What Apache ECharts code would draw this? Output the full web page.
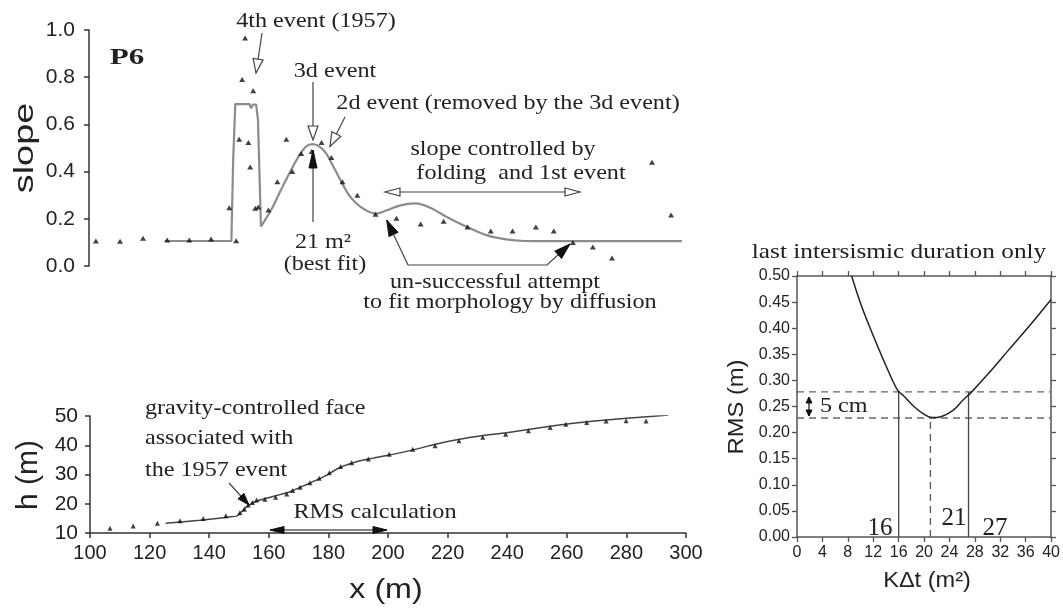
<!DOCTYPE html>
<html>
<head>
<meta charset="utf-8">
<script src="https://cdn.jsdelivr.net/npm/echarts@6/dist/echarts.min.js"></script>
<style>
  html, body { margin: 0; padding: 0; background: #fff; }
  #chart { width: 1063px; height: 610px; }
</style>
</head>
<body>
<div id="chart"></div>
<script>
// Profile P6: measured slope (triangles) against distance x (m)
const slopeX = [102.3, 110.4, 118.1, 126.2, 133.6, 140.9, 147.0, 149.3, 150.3, 151.3, 152.3, 153.4, 154.0, 155.0, 155.7, 156.7,
  160.1, 163.1, 166.1, 168.1, 171.1, 174.6, 177.9, 181.2, 184.9, 189.9, 196.0, 203.0, 211.1, 218.8, 226.8, 234.6,
  241.9, 249.7, 255.7, 262.1, 268.8, 275.2, 288.6, 295.0];
const slopeY = [0.106, 0.105, 0.118, 0.110, 0.110, 0.114, 0.247, 0.107, 0.537, 0.790, 0.966, 0.523, 0.420, 0.743, 0.245, 0.250,
  0.237, 0.357, 0.537, 0.400, 0.477, 0.485, 0.523, 0.460, 0.357, 0.300, 0.219, 0.202, 0.178, 0.190, 0.165, 0.148,
  0.148, 0.165, 0.148, 0.100, 0.080, 0.034, 0.440, 0.216];

// Modelled slope: the 1957 gravity-controlled face (sharp step)...
const stepX = [125.4, 147.7, 148.3, 149.0, 153.8, 154.3, 154.9, 156.0, 156.6, 157.6];
const stepY = [0.106, 0.106, 0.450, 0.686, 0.686, 0.668, 0.684, 0.684, 0.620, 0.167];
// ...and the diffused older scarps (KΔt = 21 m²)
const modelX = [157.6, 161.0, 164.3, 167.7, 170.5, 172.7, 174.9, 177.2, 179.4, 181.6, 183.9, 186.7, 189.5, 192.8, 196.0,
  199.6, 204.0, 209.4, 214.1, 219.7, 226.4, 233.1, 239.8, 246.0, 252.0, 298.6];
const modelY = [0.167, 0.237, 0.322, 0.407, 0.470, 0.506, 0.516, 0.506, 0.478, 0.428, 0.372, 0.308, 0.266, 0.236, 0.222,
  0.235, 0.256, 0.265, 0.248, 0.209, 0.167, 0.131, 0.113, 0.106, 0.105, 0.105];

// Elevation profile h (m): surveyed points and modelled profile
const hX = [106.7, 114.5, 122.6, 130.2, 138.0, 145.6, 150.3, 151.8, 153.1, 154.5, 155.9, 158.7, 162.3, 166.0, 168.0, 170.5,
  173.8, 176.9, 180.3, 184.1, 187.8, 193.4, 200.4, 208.3, 215.8, 223.8, 231.8, 239.5, 247.1, 254.4, 259.7, 266.7,
  273.2, 279.9, 286.6];
const hY = [11.6, 12.4, 13.3, 14.2, 15.0, 15.9, 16.9, 18.1, 19.6, 20.4, 21.3, 21.5, 22.2, 23.3, 24.5, 25.6,
  27.2, 28.7, 30.6, 32.7, 34.0, 35.3, 36.9, 38.6, 39.8, 41.5, 42.7, 43.8, 45.0, 46.1, 47.2, 47.8,
  48.3, 48.4, 48.3];
const profX = [125.4, 136.9, 148.1, 149.4, 152.6, 155.4, 158.2, 162.6, 167.1, 172.7, 178.3, 183.9, 190.6, 195.1, 206.3,
  217.4, 223.6, 230.9, 239.8, 251.0, 262.2, 273.4, 284.6, 294.1];
const profY = [13.3, 14.4, 15.6, 15.9, 19.0, 20.7, 21.6, 22.8, 24.1, 26.6, 29.2, 32.4, 34.7, 35.6, 37.9,
  40.7, 42.0, 43.2, 44.3, 46.0, 47.5, 48.6, 49.6, 50.3];

// RMS misfit against KΔt for the last intersismic duration only
const kdt = [8.6, 10.2, 12.3, 14.3, 15.8, 16.9, 18.4, 19.9, 21.2, 22.5, 24.6, 26.1, 27.5, 30.2, 33.3, 36.9, 40.0];
const rms = [0.500, 0.441, 0.377, 0.320, 0.282, 0.269, 0.250, 0.236, 0.229, 0.230, 0.243, 0.262, 0.278, 0.314, 0.358, 0.409, 0.455];
const rmsMin = 0.228;      // best-fit misfit
const rmsTolerance = 0.05; // 5 cm
const kdtBounds = [16, 27];
const kdtBest = 21;
const kdtRange = [0, 40];

const zip = (a, b) => a.map((v, i) => [v, b[i]]);

const SANS = '"Liberation Sans", Arial, sans-serif';
const SERIF = '"Liberation Serif", "Times New Roman", serif';
const INK = '#222';
const AXIS = '#333';

// ---------- annotation helpers (pixel space) ----------
function text(str, x, y, size, opt) {
  opt = opt || {};
  return {
    type: 'text', x: x, y: y, z: 110,
    rotation: opt.rotation || 0,
    scaleX: opt.scaleX || 1,
    style: {
      text: str, fontSize: size, fontFamily: opt.family || SERIF,
      fontWeight: opt.weight || 'normal', fill: INK,
      align: opt.align || 'center', verticalAlign: 'middle'
    }
  };
}
function head(tip, from, o) {
  const dx = tip[0] - from[0], dy = tip[1] - from[1];
  const d = Math.hypot(dx, dy), ux = dx / d, uy = dy / d;
  const bx = tip[0] - ux * o.len, by = tip[1] - uy * o.len;
  const nx = -uy * o.hw, ny = ux * o.hw;
  return {
    type: 'polygon', z: 105,
    shape: { points: [tip, [bx + nx, by + ny], [bx - nx, by - ny]] },
    style: o.hollow ? { fill: '#fff', stroke: '#444', lineWidth: 1.2 } : { fill: '#111', stroke: '#111', lineWidth: 1 }
  };
}
function arrow(pts, o) {
  const els = [{
    type: 'polyline', z: 104, shape: { points: pts },
    style: { stroke: o.color || '#444', lineWidth: o.lw || 1.2, fill: 'none' }
  }];
  if (o.end !== false) els.push(head(pts[pts.length - 1], pts[pts.length - 2], o));
  if (o.start) els.push(head(pts[0], pts[1], o));
  return els;
}

const S = 1.15; // width factor for the serif annotation face
const annotations = [].concat(
  // top panel
  text('P6', 127, 58, 23, { weight: 'bold', scaleX: 1.35 }),
  text('4th event (1957)', 316, 21, 21, { scaleX: S }),
  arrow([[262, 33], [256, 73]], { hollow: true, len: 14, hw: 5 }),
  text('3d event', 335, 71, 21, { scaleX: S }),
  arrow([[313, 82], [313, 140]], { hollow: true, len: 14, hw: 5 }),
  text('2d event (removed by the 3d event)', 508, 103, 21, { scaleX: S }),
  arrow([[345, 117], [330, 146.5]], { hollow: true, len: 14, hw: 5 }),
  text('slope controlled by', 503, 149, 21, { scaleX: S }),
  text('folding  and 1st event', 521, 173, 21, { scaleX: S }),
  arrow([[385, 192], [580, 192]], { hollow: true, start: true, len: 15, hw: 4 }),
  text('21 m²', 323, 242, 21, { scaleX: S }),
  text('(best fit)', 325, 264, 21, { scaleX: S }),
  arrow([[313, 222], [313, 150]], { len: 18, hw: 4 }),
  arrow([[408, 265], [386.7, 220]], { len: 16, hw: 5 }),
  arrow([[408, 265], [547, 265], [570, 244]], { len: 16, hw: 5 }),
  text('un-successful attempt', 495, 282, 21, { scaleX: S }),
  text('to fit morphology by diffusion', 510, 302, 21, { scaleX: S }),
  text('slope', 25, 148, 28, { family: SANS, rotation: Math.PI / 2, scaleX: 1.35 }),
  // bottom panel
  text('gravity-controlled face', 145, 408, 21, { align: 'left', scaleX: S }),
  text('associated with', 145, 438, 21, { align: 'left', scaleX: S }),
  text('the 1957 event', 145, 470, 21, { align: 'left', scaleX: S }),
  arrow([[229, 483], [249, 505]], { len: 12, hw: 4 }),
  text('RMS calculation', 375, 512, 21, { scaleX: S }),
  arrow([[270, 530], [387, 530]], { start: true, len: 14, hw: 3.5, color: '#111' }),
  text('h (m)', 29, 475, 30, { family: SANS, rotation: Math.PI / 2 }),
  text('x (m)', 386, 590, 28, { family: SANS, scaleX: 1.15 }),
  // right panel
  text('last intersismic duration only', 899, 252, 22, { scaleX: S }),
  text('5 cm', 820, 406, 21, { align: 'left', scaleX: S }),
  arrow([[809, 397], [809, 416]], { start: true, len: 6, hw: 3, color: '#111' }),
  text('16', 880, 528, 25),
  text('21', 954, 518, 25),
  text('27', 995, 528, 25),
  text('RMS (m)', 737, 407, 22, { family: SANS, rotation: Math.PI / 2, scaleX: 1.08 }),
  text('KΔt (m²)', 927, 581, 22, { family: SANS, scaleX: 1.07 })
);

// ---------- axes ----------
function valueAxis(extra) {
  return Object.assign({
    type: 'value',
    axisLine: { show: true, onZero: false, lineStyle: { color: AXIS, width: 1.5 } },
    axisTick: { show: true, inside: false, length: 5, lineStyle: { color: AXIS, width: 1.5 } },
    axisLabel: { show: true, color: INK, fontFamily: SANS, fontSize: 20, margin: 10 },
    splitLine: { show: false }
  }, extra);
}
const noLabel = { show: false };

const guide = (data, dashed, color) => ({
  type: 'line', xAxisIndex: 2, yAxisIndex: 2, data: data, symbol: 'none', silent: true,
  lineStyle: { color: color || '#444', width: 1.3, type: dashed ? [7, 5] : 'solid' }, z: 3
});

const option = {
  animation: false,
  backgroundColor: '#fff',
  grid: [
    { left: 89, top: 30, width: 597, height: 236 },
    { left: 90, top: 416, width: 596, height: 117 },
    { left: 797, top: 276, width: 260, height: 261 }
  ],
  xAxis: [
    { type: 'value', gridIndex: 0, min: 100, max: 300, show: false },
    valueAxis({ gridIndex: 1, min: 100, max: 300, interval: 20 }),
    valueAxis({ gridIndex: 2, min: 0, max: 40, interval: 4,
      axisTick: { show: true, length: 5, lineStyle: { color: '#555', width: 1.3 } },
      axisLine: { show: true, onZero: false, lineStyle: { color: '#555', width: 1.5 } },
      axisLabel: { color: INK, fontFamily: SANS, fontSize: 16, margin: 8 } }),
    valueAxis({ gridIndex: 2, position: 'top', min: 0, max: 40, interval: 4, axisLabel: noLabel,
      axisTick: { show: true, length: 5, lineStyle: { color: '#555', width: 1.3 } },
      axisLine: { show: true, onZero: false, lineStyle: { color: '#555', width: 1.5 } } })
  ],
  yAxis: [
    valueAxis({ gridIndex: 0, min: 0, max: 1, interval: 0.2,
      axisLabel: { color: INK, fontFamily: SANS, fontSize: 21, margin: 14, formatter: v => v.toFixed(1) } }),
    valueAxis({ gridIndex: 1, min: 10, max: 50, interval: 10,
      axisLabel: { color: INK, fontFamily: SANS, fontSize: 21, margin: 12 } }),
    valueAxis({ gridIndex: 2, min: 0, max: 0.5, interval: 0.05,
      axisTick: { show: true, length: 5, lineStyle: { color: '#555', width: 1.3 } },
      axisLine: { show: true, onZero: false, lineStyle: { color: '#555', width: 1.5 } },
      axisLabel: { color: INK, fontFamily: SANS, fontSize: 16, margin: 7, formatter: v => v.toFixed(2) } }),
    valueAxis({ gridIndex: 2, position: 'right', min: 0, max: 0.5, interval: 0.05, axisLabel: noLabel,
      axisTick: { show: true, length: 5, lineStyle: { color: '#555', width: 1.3 } },
      axisLine: { show: true, onZero: false, lineStyle: { color: '#555', width: 1.5 } } })
  ],
  series: [
    { type: 'line', xAxisIndex: 0, yAxisIndex: 0, data: zip(stepX, stepY), symbol: 'none',
      lineStyle: { color: '#8c8c8c', width: 2.2 }, z: 2 },
    { type: 'line', xAxisIndex: 0, yAxisIndex: 0, data: zip(modelX, modelY), symbol: 'none', smooth: 0.3,
      lineStyle: { color: '#8c8c8c', width: 2.2 }, z: 2 },
    { type: 'scatter', xAxisIndex: 0, yAxisIndex: 0, data: zip(slopeX, slopeY), symbol: 'triangle',
      symbolSize: [6, 5], itemStyle: { color: '#111' }, z: 4 },
    { type: 'line', xAxisIndex: 1, yAxisIndex: 1, data: zip(profX, profY), symbol: 'none', smooth: 0.2,
      lineStyle: { color: '#444', width: 1.5 }, z: 2 },
    { type: 'scatter', xAxisIndex: 1, yAxisIndex: 1, data: zip(hX, hY), symbol: 'triangle',
      symbolSize: [5, 5], itemStyle: { color: '#111' }, z: 4 },
    { type: 'line', xAxisIndex: 2, yAxisIndex: 2, data: zip(kdt, rms), symbol: 'none', smooth: 0.35,
      lineStyle: { color: '#222', width: 1.5 }, z: 4 },
    guide([[kdtRange[0], rmsMin], [kdtRange[1], rmsMin]], true, '#666'),
    guide([[kdtRange[0], rmsMin + rmsTolerance], [kdtRange[1], rmsMin + rmsTolerance]], true, '#666'),
    guide([[kdtBounds[0], 0], [kdtBounds[0], rmsMin + rmsTolerance]], false),
    guide([[kdtBounds[1], 0], [kdtBounds[1], rmsMin + rmsTolerance]], false),
    guide([[kdtBest, 0], [kdtBest, rmsMin]], true, '#555')
  ],
  graphic: { elements: annotations }
};

const chart = echarts.init(document.getElementById('chart'), null, { renderer: 'canvas' });
chart.setOption(option);
</script>
</body>
</html>
